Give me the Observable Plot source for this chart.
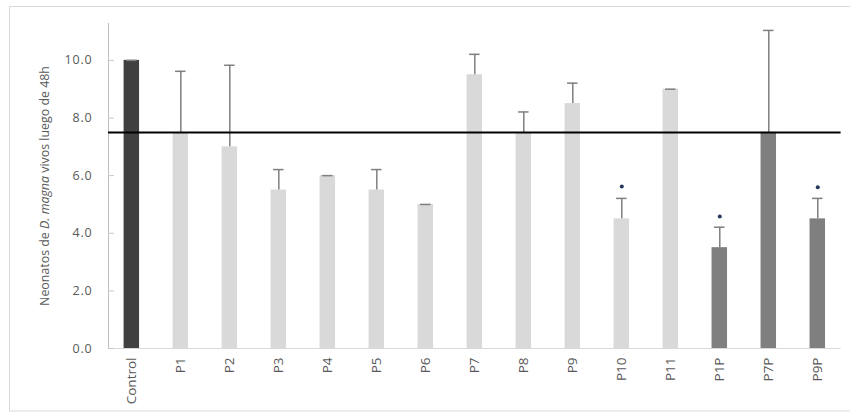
<!DOCTYPE html>
<html>
<head>
<meta charset="utf-8">
<script src="https://cdn.jsdelivr.net/npm/d3@7"></script>
<script src="https://cdn.jsdelivr.net/npm/@observablehq/plot@0.6"></script>
<style>
  html, body { margin: 0; padding: 0; background: #fff; overflow: hidden; }
  #chart svg { display: block; }
</style>
</head>
<body>
<div id="chart"></div>
<script>
const categories = ["Control","P1","P2","P3","P4","P5","P6","P7","P8","P9","P10","P11","P1P","P7P","P9P"];
const means      = [10.0, 7.5, 7.0, 5.5, 6.0, 5.5, 5.0, 9.5, 7.5, 8.5, 4.5, 9.0, 3.5, 7.5, 4.5];
const errors     = [0, 2.12, 2.83, 0.71, 0, 0.71, 0, 0.71, 0.71, 0.71, 0.71, 0, 0.71, 3.54, 0.71];
const groups     = ["control","muestra","muestra","muestra","muestra","muestra","muestra","muestra","muestra","muestra","muestra","muestra","pretratada","pretratada","pretratada"];
const starCats   = ["P10","P1P","P9P"];
const starY      = [5.62, 4.58, 5.6];
const referenceLine = [7.5];
const yTicks = [0, 2, 4, 6, 8, 10];

const data = categories.map((c, i) => ({cat: c, mean: means[i], err: errors[i], hi: means[i] + errors[i], group: groups[i]}));
const stars = starCats.map((c, i) => ({cat: c, y: starY[i]}));

const colorMap = {control: "#404040", muestra: "#d9d9d9", pretratada: "#7f7f7f"};

const plot = Plot.plot({
  width: 850,
  height: 414,
  marginLeft: 108,
  marginRight: 9.4,
  marginTop: 23,
  marginBottom: 66,
  style: {fontFamily: "'Open Sans', sans-serif", fontSize: "11px", color: "#595959", background: "#fff"},
  x: {domain: categories, paddingInner: 0.684, paddingOuter: 0.318, round: false, label: null},
  y: {domain: [0, 11.28], label: null},
  marks: [
    Plot.frame({anchor: "left", stroke: "#bfbfbf"}),
    Plot.ruleY([0], {stroke: "#d9d9d9"}),
    Plot.axisY({ticks: yTicks, tickSize: -6, text: null, stroke: "#c8c8c8"}),
    Plot.barY(data, {x: "cat", y: "mean", fill: d => colorMap[d.group]}),
    Plot.ruleX(data, {x: "cat", y1: "mean", y2: "hi", stroke: "#7f7f7f", strokeWidth: 1.5}),
    Plot.tickY(data, {x: "cat", y: "hi", stroke: "#7f7f7f", strokeWidth: 1.5, insetLeft: 2.5, insetRight: 2.5}),
    Plot.ruleY(referenceLine, {stroke: "#000", strokeWidth: 2}),
    Plot.dot(stars, {x: "cat", y: "y", r: 2, fill: "#25385a", stroke: "none"}),
    Plot.axisY({ticks: yTicks, tickFormat: d3.format(".1f"), tickSize: 0, tickPadding: 16, fontSize: 12.5, fill: "#595959"}),
    Plot.axisX({tickRotate: -90, tickSize: 0, tickPadding: 9, fontSize: 13.5, fill: "#595959"})
  ]
});

const svg = d3.select(plot);
svg.insert("rect", ":first-child")
  .attr("x", 9.5).attr("y", 6.5).attr("width", 850).attr("height", 404.5)
  .attr("fill", "none").attr("stroke", "#d9d9d9");
svg.selectAll("g[aria-label='y-axis tick label'] text").attr("letter-spacing", "0.8px");
const t = svg.append("text")
  .attr("transform", "translate(46,186) rotate(-90)")
  .attr("text-anchor", "middle")
  .attr("dominant-baseline", "middle")
  .attr("fill", "#595959")
  .attr("font-size", 12.4);
t.append("tspan").text("Neonatos de ");
t.append("tspan").attr("font-style", "italic").text("D. magna");
t.append("tspan").text(" vivos luego de 48h");

document.getElementById("chart").appendChild(plot);
</script>
</body>
</html>
